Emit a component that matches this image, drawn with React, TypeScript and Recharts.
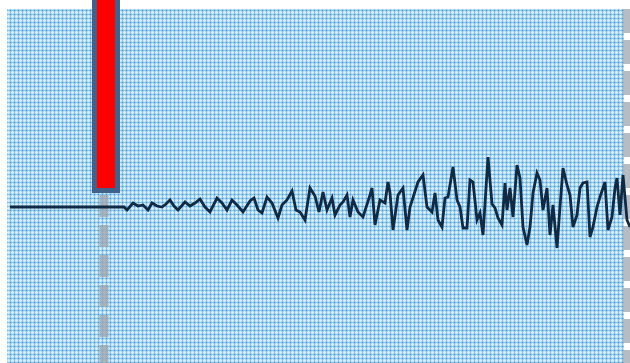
import React from "react";
import {
  ComposedChart,
  Line,
  XAxis,
  YAxis,
  ReferenceArea,
  ReferenceLine,
} from "recharts";

// sample time (px-ish units) and trace amplitude
const time = [
  3, 113, 117, 120, 126, 131, 136, 141, 145, 150, 155, 159, 163, 167, 171, 178,
  183, 188, 193, 198, 203, 210, 215, 220, 225, 230, 236, 243, 247, 251, 255,
  260, 265, 271, 275, 280, 285, 289, 293, 298, 303, 308, 312, 316, 320, 325,
  328, 333, 336, 340, 343, 346, 351, 356, 363, 365, 368, 373, 378, 381, 383,
  386, 391, 396, 400, 403, 411, 416, 420, 425, 428, 431, 435, 438, 441, 446,
  450, 453, 456, 460, 463, 466, 470, 473, 476, 481, 485, 488, 491, 495, 498,
  500, 503, 506, 510, 513, 516, 520, 523, 526, 530, 533, 536, 540, 543, 546,
  550, 553, 556, 560, 563, 566, 570, 573, 576, 580, 583, 586, 590, 593, 598,
  601, 605, 608, 610, 613, 616, 620, 623,
];
const amplitude = [
  0, 0, 0, -3, 4, 1, 2, -3, 4, 1, 0, 3, 7, 1, -3, 5, 1, 4, 8, 0, -5, 9, 4, -3,
  7, 2, -5, 6, 9, -3, -6, 10, 4, -11, 2, 7, 16, -3, -5, -13, 19, 11, -5, 15,
  -3, 9, -8, 2, 5, 12, -10, 7, -5, -10, 12, 19, -18, 7, 4, 25, 14, -23, 12, 19,
  -23, 0, 25, 32, 0, -5, 14, -13, -20, 9, 10, 40, 7, 0, -21, -21, 27, 25, -13,
  -6, -28, 50, 3, -1, -11, -18, 24, -3, 19, -10, 42, 29, -20, -38, -20, 14, 34,
  27, -3, 19, -28, 2, -41, 0, 39, 22, 12, -20, -8, 19, 24, 25, -30, -20, 0, 10,
  25, -23, -10, 19, 29, -8, 32, -13, -20,
];

// event marker (red bar) and dashed guides
const eventStart = 87.5;
const eventEnd = 110.5;
const eventBottom = 16.5;
const guideLeft = 97;
const guideRight = 619.5;

const data = time.map((t, i) => ({ t, a: amplitude[i] }));

export default function App() {
  return (
    <div style={{ position: "absolute", left: 0, top: 0 }}>
      <ComposedChart
        width={630}
        height={363}
        data={data}
        margin={{ top: 0, right: 0, bottom: 0, left: 7 }}
      >
        <defs>
          <pattern id="plaid" width="4" height="4" patternUnits="userSpaceOnUse">
            <rect width="4" height="4" fill="#b0d9f3" />
            <rect x="0" width="1" height="4" fill="#d8edfb" />
            <rect y="0" width="4" height="1" fill="#d8edfb" />
            <rect x="2" width="1" height="4" fill="#86c3ea" />
            <rect y="2" width="4" height="1" fill="#86c3ea" />
            <rect x="2" y="2" width="1" height="1" fill="#4a9bd6" />
          </pattern>
        </defs>
        <XAxis
          dataKey="t"
          type="number"
          domain={[0, 623]}
          allowDataOverflow
          hide
        />
        <YAxis type="number" domain={[-156, 207]} allowDataOverflow hide />
        <ReferenceArea
          x1={0}
          x2={617}
          y1={-156}
          y2={198}
          fill="url(#plaid)"
          fillOpacity={1}
          stroke="none"
        />
        <ReferenceLine
          segment={[
            { x: guideLeft, y: 12 },
            { x: guideLeft, y: -156 },
          ]}
          stroke="#9ea7b1"
          strokeOpacity={0.8}
          strokeWidth={9}
          strokeDasharray="22 8"
        />
        <ReferenceLine
          segment={[
            { x: guideRight, y: 198 },
            { x: guideRight, y: -156 },
          ]}
          stroke="#a9b0b8"
          strokeOpacity={0.85}
          strokeWidth={7}
          strokeDasharray="24 7"
        />
        <ReferenceArea
          x1={eventStart}
          x2={eventEnd}
          y1={eventBottom}
          y2={215}
          fill="#ff0000"
          fillOpacity={1}
          stroke="#41608c"
          strokeWidth={5}
          ifOverflow="visible"
        />
        <Line
          dataKey="a"
          type="linear"
          stroke="#0f2a44"
          strokeWidth={2.8}
          dot={false}
          isAnimationActive={false}
        />
      </ComposedChart>
    </div>
  );
}
